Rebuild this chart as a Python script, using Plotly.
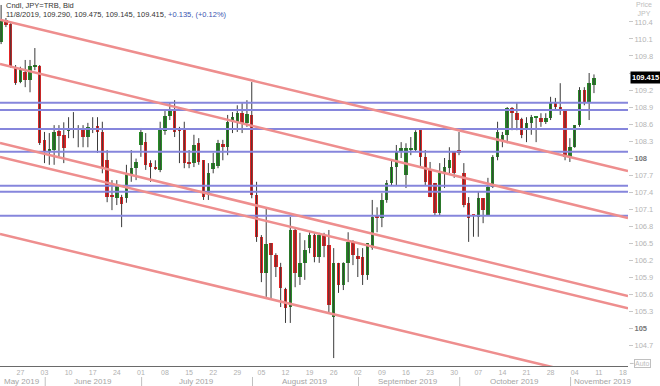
import numpy as np
import pandas as pd
import plotly.graph_objects as go

# ---------------- data ----------------
dates = pd.bdate_range("2019-05-21", "2019-11-08")  # trading days (categories)

opens = [
    110.05, 110.44, 110.36, 109.59, 109.34, 109.52, 109.38, 109.62, 109.62, 108.32,
    108.12, 108.14, 108.48, 108.41, 108.48, 108.49, 108.53, 108.49, 108.37, 108.49,
    108.56, 108.46, 107.96, 107.35, 107.29, 107.31, 107.29, 107.70, 107.82, 108.23,
    108.28, 107.91, 107.84, 107.79, 108.48, 108.74, 108.85, 108.49, 108.49, 107.93,
    107.91, 108.26, 107.96, 107.35, 107.81, 107.86, 108.25, 108.19, 108.63, 108.63,
    108.79, 108.62, 108.76, 107.35, 106.61, 105.97, 106.50, 106.29, 106.08, 105.69,
    105.37, 106.73, 105.90, 106.15, 106.41, 106.64, 106.25, 106.64, 106.46, 105.19,
    106.15, 105.76, 106.15, 106.52, 106.27, 106.25, 105.94, 106.41, 106.98, 106.94,
    107.26, 107.56, 107.84, 108.12, 107.70, 108.14, 108.14, 108.49, 108.02, 107.79,
    107.56, 107.03, 107.75, 107.82, 108.11, 108.14, 107.73, 107.21, 106.99, 106.96,
    107.29, 106.99, 107.49, 108.02, 108.32, 108.41, 108.88, 108.79, 108.69, 108.53,
    108.62, 108.71, 108.71, 108.63, 108.71, 108.97, 108.90, 108.85, 108.02, 108.19,
    108.58, 109.20, 108.99, 109.290]
highs = [
    110.70, 110.47, 110.40, 109.64, 109.61, 109.73, 109.73, 109.94, 109.64, 108.46,
    108.44, 108.58, 108.58, 108.63, 108.72, 108.81, 108.58, 108.58, 108.62, 108.72,
    108.72, 108.64, 108.14, 107.61, 107.61, 107.35, 107.88, 108.14, 107.99, 108.53,
    108.44, 107.96, 107.96, 108.64, 108.85, 108.97, 109.02, 108.55, 108.64, 108.14,
    108.41, 108.35, 107.96, 107.91, 108.09, 108.32, 108.32, 108.76, 108.81, 108.93,
    108.97, 109.02, 109.34, 107.58, 106.64, 107.12, 106.50, 106.32, 106.15, 105.71,
    106.96, 106.78, 106.68, 106.55, 106.69, 106.69, 106.68, 106.68, 106.73, 106.41,
    106.15, 106.16, 106.69, 106.55, 106.41, 106.41, 106.50, 107.26, 107.13, 107.38,
    107.61, 107.96, 108.23, 108.28, 108.26, 108.37, 108.49, 108.49, 108.14, 107.93,
    107.56, 107.91, 108.00, 108.19, 108.11, 108.46, 107.91, 107.31, 106.99, 107.40,
    107.29, 107.65, 108.05, 108.64, 108.46, 108.90, 108.90, 108.97, 108.71, 108.72,
    108.76, 108.72, 108.79, 108.79, 109.08, 109.06, 109.32, 108.85, 108.35, 108.58,
    109.25, 109.25, 109.50, 109.475]
lows = [
    110.01, 110.31, 109.59, 109.29, 109.32, 109.25, 109.16, 109.55, 108.23, 107.91,
    107.88, 107.88, 108.02, 107.91, 108.35, 108.35, 108.19, 108.19, 108.19, 108.44,
    108.09, 107.73, 107.22, 107.08, 107.17, 106.78, 107.21, 107.58, 107.61, 108.02,
    107.79, 107.58, 107.79, 107.75, 108.41, 108.67, 108.37, 107.91, 107.82, 107.82,
    107.84, 107.88, 107.26, 107.26, 107.73, 107.82, 107.96, 108.05, 108.44, 108.46,
    108.44, 108.55, 107.29, 106.52, 105.81, 105.55, 105.53, 105.90, 105.37, 105.09,
    105.09, 105.72, 105.76, 105.85, 106.32, 106.16, 106.15, 106.25, 105.28, 104.47,
    105.62, 105.67, 105.81, 106.11, 105.90, 105.76, 105.85, 106.38, 106.69, 106.78,
    107.21, 107.52, 107.52, 108.00, 107.47, 108.05, 108.11, 107.84, 107.52, 107.31,
    106.99, 106.99, 107.47, 107.73, 107.65, 108.05, 107.13, 106.52, 106.61, 106.61,
    106.85, 106.99, 107.47, 107.96, 108.19, 108.26, 108.49, 108.49, 108.35, 108.28,
    108.41, 108.28, 108.55, 108.60, 108.67, 108.85, 108.76, 107.96, 107.93, 108.18,
    108.55, 108.93, 108.67, 109.145]
closes = [
    110.44, 110.35, 109.61, 109.32, 109.55, 109.38, 109.62, 109.64, 108.26, 108.11,
    108.16, 108.46, 108.39, 108.17, 108.51, 108.53, 108.49, 108.37, 108.55, 108.53,
    108.46, 107.82, 107.31, 107.31, 107.52, 107.19, 107.73, 107.82, 107.93, 108.46,
    107.88, 107.84, 107.82, 108.49, 108.74, 108.85, 108.46, 108.48, 107.91, 107.89,
    108.23, 107.93, 107.31, 107.73, 107.91, 108.26, 108.19, 108.63, 108.72, 108.79,
    108.62, 108.78, 107.35, 106.61, 105.97, 106.48, 106.29, 106.08, 105.71, 105.35,
    106.73, 105.97, 106.15, 106.38, 106.64, 106.25, 106.64, 106.45, 105.41, 106.15,
    105.76, 106.15, 106.52, 106.29, 106.22, 105.94, 106.50, 106.96, 106.94, 107.26,
    107.56, 107.84, 108.11, 108.18, 108.18, 108.18, 108.46, 108.02, 107.58, 107.31,
    107.03, 107.73, 107.84, 107.96, 107.73, 108.09, 107.17, 106.94, 106.98, 107.29,
    107.08, 107.49, 108.02, 108.46, 108.41, 108.88, 108.79, 108.67, 108.41, 108.62,
    108.72, 108.72, 108.63, 108.71, 108.97, 108.90, 108.85, 108.02, 108.19, 108.58,
    109.20, 108.99, 109.32, 109.415]

# horizontal support / resistance levels
h_levels = [108.975, 108.847, 108.512, 108.11, 107.51, 107.405, 106.98]
# diagonal channel lines: (start index, end index) and prices at those ends
trend_x = [-0.23, 130.06]
trend_start = [110.44, 109.66, 108.265, 108.02, 106.66]
trend_end = [107.77, 106.94, 105.565, 105.35, 103.99]

y_ticks = [104.7, 105.0, 105.3, 105.6, 105.9, 106.2, 106.5, 106.8, 107.1, 107.4,
           107.7, 108.0, 108.3, 108.6, 108.9, 109.2, 109.5, 109.8, 110.1, 110.4]
last_price = 109.415
header1 = "Cndl, JPY=TRB, Bid"
header2 = "11/8/2019, 109.290, 109.475, 109.145, 109.415, "
header2b = "+0.135, (+0.12%)"

X_RANGE = [-0.23, 130.06]
Y_RANGE = [104.33, 110.788]

# ---------------- build ----------------
n = len(dates)
xs = np.arange(n)
O = np.array(opens); H = np.array(highs); L = np.array(lows); C = np.array(closes)

RED = "#e22525"
GREEN = "#278a27"
colors = [GREEN if c >= o else RED for o, c in zip(O, C)]
bases = np.minimum(O, C)
heights = np.maximum(np.abs(C - O), 0.025)

wx, wy = [], []
for i in range(n):
    wx += [xs[i], xs[i], None]
    wy += [L[i], H[i], None]

fig = go.Figure()
fig.add_trace(go.Scatter(x=wx, y=wy, mode="lines", line=dict(color="#3a3a3a", width=1),
                         hoverinfo="skip", showlegend=False))
fig.add_trace(go.Bar(x=xs, y=heights, base=bases, width=0.72,
                     marker=dict(color=colors, line=dict(width=0)), showlegend=False))

for lv in h_levels:
    fig.add_trace(go.Scatter(x=X_RANGE, y=[lv, lv], mode="lines",
                             line=dict(color="#8686dc", width=2), showlegend=False, hoverinfo="skip"))
for y0, y1 in zip(trend_start, trend_end):
    fig.add_trace(go.Scatter(x=trend_x, y=[y0, y1], mode="lines",
                             line=dict(color="#ee8e8e", width=2.5), showlegend=False, hoverinfo="skip"))

# x ticks (Mondays), extended past data to end of axis
ext = pd.bdate_range("2019-05-21", "2019-11-22")
tickvals, ticktext = [], []
for i, d in enumerate(ext):
    if d.weekday() == 0 and X_RANGE[0] <= i <= X_RANGE[1]:
        tickvals.append(i)
        ticktext.append(d.strftime("%d"))

# month boundaries
month_starts = []
for i, d in enumerate(ext):
    if i > 0 and d.month != ext[i - 1].month and i <= X_RANGE[1]:
        month_starts.append(i)

FONT = "Liberation Sans, Arial, sans-serif"
annotations = []
shapes = []
bounds = [X_RANGE[0]] + month_starts
for j, s in enumerate(bounds):
    name = ext[max(int(np.ceil(s)), 0)].strftime("%B %Y")
    if j + 1 < len(bounds):
        cx = (s + bounds[j + 1]) / 2
        annotations.append(dict(x=cx, y=-0.041, xref="x", yref="paper", text=name,
                                showarrow=False, xanchor="center", yanchor="middle",
                                font=dict(family=FONT, size=8, color="#a5a5a5")))
    else:
        annotations.append(dict(x=s + 0.15, y=-0.041, xref="x", yref="paper", text=name,
                                showarrow=False, xanchor="left", yanchor="middle", xshift=1,
                                font=dict(family=FONT, size=8, color="#a5a5a5")))
for s in month_starts:
    shapes.append(dict(type="line", xref="x", yref="paper", x0=s + 0.15, x1=s + 0.15,
                       y0=-0.030, y1=-0.056, line=dict(color="#c0c0c0", width=1)))

# y tick text (109.5 sits behind the last-price box, as in the source)
ytext = []
for v in y_ticks:
    if abs(v - last_price) < 0.15:
        ytext.append("")
    elif abs(v - round(v)) < 1e-9:
        ytext.append('<span style="color:#777"><b>%d</b></span>' % round(v))
    else:
        ytext.append("%.1f" % v)

# header
annotations.append(dict(x=0, y=1, xref="paper", yref="paper", xanchor="left", yanchor="top",
                        xshift=4, yshift=1, showarrow=False, text=header1,
                        font=dict(family=FONT, size=7.5, color="#333")))
annotations.append(dict(x=0, y=1, xref="paper", yref="paper", xanchor="left", yanchor="top",
                        xshift=4, yshift=-8, showarrow=False,
                        text=header2 + '<span style="color:#3a55b0">' + header2b + "</span>",
                        font=dict(family=FONT, size=7.5, color="#333")))
# price / currency labels
annotations.append(dict(x=1, y=1, xref="paper", yref="paper", xanchor="left", yanchor="top",
                        xshift=6, yshift=1, showarrow=False, text="Price<br>JPY",
                        font=dict(family=FONT, size=7, color="#bdbdbd")))
# last price box
annotations.append(dict(x=1, y=last_price, xref="paper", yref="y", xanchor="left", yanchor="middle",
                        xshift=2, showarrow=False, text="<b>%.3f</b>" % last_price,
                        bgcolor="#000", borderpad=1, font=dict(family=FONT, size=7.5, color="#fff")))
# Auto box
annotations.append(dict(x=1, y=0.007, xref="paper", yref="paper", xanchor="left", yanchor="middle",
                        xshift=6, showarrow=False, text="Auto", bordercolor="#c0c0c0", borderwidth=1,
                        borderpad=0, font=dict(family=FONT, size=7, color="#bdbdbd")))
shapes.append(dict(type="line", xref="paper", yref="paper", x0=1.003, x1=1.009, y0=0.007, y1=0.007,
                   line=dict(color="#c0c0c0", width=1)))

fig.update_layout(
    width=660, height=386,
    margin=dict(l=0, r=32, t=0, b=20),
    paper_bgcolor="#fff", plot_bgcolor="#fff",
    barmode="overlay", bargap=0,
    showlegend=False,
    xaxis=dict(range=X_RANGE, showgrid=False, zeroline=False, showline=True,
               linecolor="#6a6a6a", linewidth=1, tickvals=tickvals, ticktext=ticktext,
               ticks="", tickfont=dict(family=FONT, size=7, color="#b0b0b0"),
               fixedrange=True),
    yaxis=dict(range=Y_RANGE, side="right", showgrid=False, zeroline=False, showline=False,
               tickvals=y_ticks, ticktext=ytext, ticks="outside", ticklen=4, tickcolor="#c8c8c8",
               tickfont=dict(family=FONT, size=7.5, color="#b5b5b5"), fixedrange=True),
    annotations=annotations,
    shapes=shapes,
)

fig.write_html("out.html")
